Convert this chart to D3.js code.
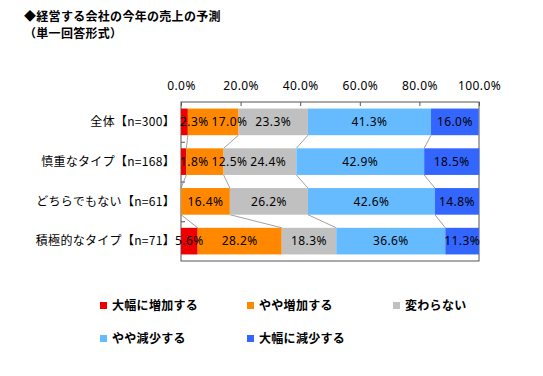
<!DOCTYPE html>
<html lang="ja">
<head>
<meta charset="utf-8">
<title>経営する会社の今年の売上の予測</title>
<script src="https://cdn.jsdelivr.net/npm/d3@7"></script>
<style>
  body { margin: 0; background: #fff; }
  svg text { font-family: "Noto Sans CJK JP", sans-serif; fill: #000; }
</style>
</head>
<body>
<div id="chart"></div>
<script>
// data
var categories = ["全体【n=300】", "慎重なタイプ【n=168】", "どちらでもない【n=61】", "積極的なタイプ【n=71】"];
var seriesNames = ["大幅に増加する", "やや増加する", "変わらない", "やや減少する", "大幅に減少する"];
var seriesColors = ["#ee0000", "#ff8800", "#c0c0c0", "#66bbff", "#3366ff"];
var bigUp   = [2.3, 1.8, 0, 5.6];
var smallUp = [17.0, 12.5, 16.4, 28.2];
var same    = [23.3, 24.4, 26.2, 18.3];
var smallDn = [41.3, 42.9, 42.6, 36.6];
var bigDn   = [16.0, 18.5, 14.8, 11.3];
var tickValues = [0, 20, 40, 60, 80, 100];

var width = 543, height = 376;
var svg = d3.select("#chart").append("svg")
    .attr("width", width)
    .attr("height", height);

// title
svg.append("text").attr("x", 24).attr("y", 21)
    .style("font-size", "12px").style("font-weight", "bold")
    .style("letter-spacing", "0.3px")
    .text("◆経営する会社の今年の売上の予測");
svg.append("text").attr("x", 24).attr("y", 38)
    .style("font-size", "12px").style("font-weight", "bold")
    .style("letter-spacing", "0.3px")
    .text("（単一回答形式）");

var pLeft = 181, pRight = 479, pTop = 102, pBottom = 261;

var x = d3.scaleLinear().domain([0, 100]).range([pLeft, pRight]);
var y = d3.scaleBand().domain(categories).range([pTop, pBottom]).paddingInner(0.33).paddingOuter(0.165);
var yb = d3.scaleBand().domain(categories).range([pTop, pBottom]);

var rows = categories.map(function(c, i) {
  return { cat: c, b: bigUp[i], s: smallUp[i], m: same[i], d: smallDn[i], bd: bigDn[i] };
});
var stack = d3.stack().keys(["b", "s", "m", "d", "bd"]);
var layers = stack(rows);

// frame
svg.append("rect")
    .attr("x", pLeft).attr("y", pTop)
    .attr("width", pRight - pLeft).attr("height", pBottom - pTop)
    .attr("fill", "none").attr("stroke", "#555").attr("stroke-width", 1);

// top axis, ticks pointing inward
var xAxis = d3.axisTop(x).tickValues(tickValues).tickSize(-4).tickPadding(12)
    .tickFormat(function(d) { return d.toFixed(1) + "%"; });
var gx = svg.append("g").attr("transform", "translate(0," + pTop + ")").call(xAxis);
gx.select(".domain").remove();
gx.selectAll("line").attr("stroke", "#555");
gx.selectAll("text").style("font-size", "12px").attr("fill", "#000")
    .style("letter-spacing", "0.4px")
    .style("font-family", "'Noto Sans', sans-serif");

// left axis: ticks between categories
var gy = svg.append("g");
categories.slice(1).forEach(function(c) {
  gy.append("line").attr("x1", pLeft).attr("x2", pLeft + 4)
    .attr("y1", yb(c) + 0.5).attr("y2", yb(c) + 0.5).attr("stroke", "#555");
});
gy.selectAll("text.cat").data(categories).enter().append("text")
    .attr("class", "cat")
    .attr("x", pLeft - 6)
    .attr("y", function(d) { return y(d) + y.bandwidth() / 2; })
    .attr("dy", "0.35em")
    .attr("text-anchor", "end")
    .style("font-size", "12px")
    .style("letter-spacing", "0.3px")
    .text(function(d) { return d; });

// series connector lines
var gl = svg.append("g");
layers.slice(0, 4).forEach(function(layer) {
  for (var i = 0; i < layer.length - 1; i++) {
    gl.append("line")
      .attr("x1", x(layer[i][1])).attr("y1", y(categories[i]) + y.bandwidth())
      .attr("x2", x(layer[i + 1][1])).attr("y2", y(categories[i + 1]))
      .attr("stroke", "#777").attr("stroke-width", 0.7);
  }
});

// bars
svg.selectAll("g.layer").data(layers).enter().append("g")
    .attr("class", "layer")
    .attr("fill", function(d, i) { return seriesColors[i]; })
  .selectAll("rect").data(function(d) { return d; }).enter().append("rect")
    .attr("x", function(d) { return x(d[0]); })
    .attr("y", function(d) { return y(d.data.cat); })
    .attr("width", function(d) { return x(d[1]) - x(d[0]); })
    .attr("height", y.bandwidth());

// value labels, pushed apart when they collide
var gt = svg.append("g");
categories.forEach(function(c, i) {
  var items = [];
  layers.forEach(function(layer) {
    var v = layer[i][1] - layer[i][0];
    if (v <= 0) return;
    var t = gt.append("text")
      .attr("y", y(c) + y.bandwidth() / 2)
      .attr("dy", "0.36em")
      .attr("text-anchor", "middle")
      .style("font-size", "12px")
      .style("letter-spacing", "0.4px")
      .style("font-family", "'Noto Sans', sans-serif")
      .text(v.toFixed(1) + "%");
    var w = t.node().getComputedTextLength();
    items.push({ t: t, w: w, cx: (x(layer[i][0]) + x(layer[i][1])) / 2 });
  });
  if (items.length > 1 && items[0].cx + items[0].w / 2 > items[1].cx - items[1].w / 2) {
    items[0].cx = Math.max(items[0].cx, pLeft - 1 + items[0].w / 2);
  }
  for (var k = 1; k < items.length; k++) {
    var minLeft = items[k - 1].cx + items[k - 1].w / 2 + 3;
    if (items[k].cx - items[k].w / 2 < minLeft) items[k].cx = minLeft + items[k].w / 2;
  }
  items.forEach(function(it) { it.t.attr("x", it.cx); });
});

// legend
var legendPos = [[100, 305], [247, 305], [393, 305], [100, 338], [247, 338]];
var lg = svg.selectAll("g.legend").data(seriesNames).enter().append("g")
    .attr("class", "legend")
    .attr("transform", function(d, i) { return "translate(" + legendPos[i][0] + "," + legendPos[i][1] + ")"; });
lg.append("rect").attr("x", 0).attr("y", -3).attr("width", 7).attr("height", 7)
    .attr("fill", function(d, i) { return seriesColors[i]; });
lg.append("text").attr("x", 12).attr("y", 0).attr("dy", "0.38em")
    .style("font-size", "12px").style("font-weight", "bold")
    .style("letter-spacing", "0.3px")
    .text(function(d) { return d; });
</script>
</body>
</html>
